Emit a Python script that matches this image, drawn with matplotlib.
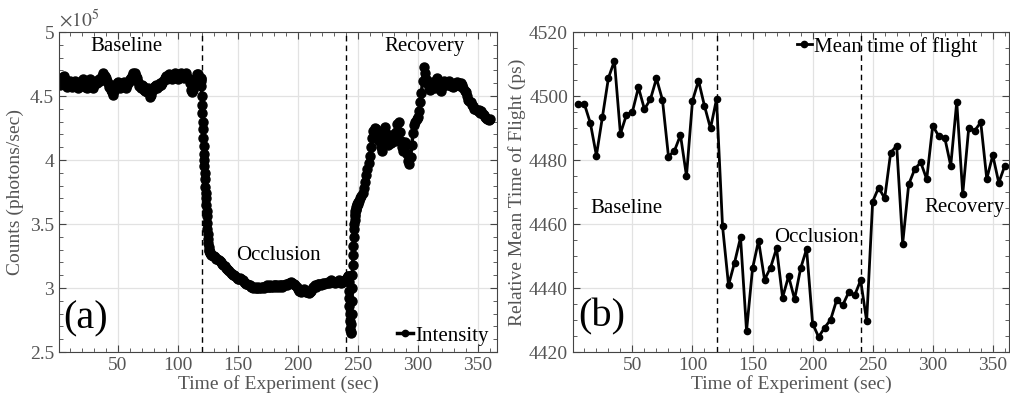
import numpy as np
import matplotlib
matplotlib.use('Agg')
from matplotlib import pyplot as plt
from matplotlib.ticker import MultipleLocator, FuncFormatter

# ---- panel (a): intensity, counts in units of 1e5 photons/sec ----
# sampling: 1 s, with 0.25 s around the two transitions
t_baseline = np.arange(1, 120)
i_baseline = [4.61, 4.59, 4.63, 4.65, 4.66, 4.63, 4.59, 4.57, 4.61, 4.62,
              4.60, 4.57, 4.60, 4.62, 4.61, 4.58, 4.56, 4.58, 4.60, 4.62,
              4.63, 4.60, 4.57, 4.56, 4.59, 4.62, 4.63, 4.60, 4.56, 4.59,
              4.61, 4.62, 4.60, 4.63, 4.62, 4.64, 4.66, 4.68, 4.66, 4.64,
              4.62, 4.60, 4.57, 4.55, 4.53, 4.51, 4.54, 4.58, 4.60, 4.61,
              4.58, 4.56, 4.58, 4.60, 4.61, 4.58, 4.56, 4.59, 4.61, 4.63,
              4.64, 4.66, 4.68, 4.68, 4.66, 4.64, 4.61, 4.58, 4.56, 4.59,
              4.58, 4.55, 4.54, 4.53, 4.56, 4.52, 4.49, 4.51, 4.55, 4.57,
              4.58, 4.59, 4.56, 4.58, 4.60, 4.59, 4.60, 4.62, 4.64, 4.66,
              4.63, 4.65, 4.67, 4.64, 4.63, 4.64, 4.66, 4.68, 4.65, 4.63,
              4.64, 4.66, 4.68, 4.66, 4.64, 4.66, 4.68, 4.65, 4.63, 4.60,
              4.55, 4.53, 4.55, 4.59, 4.64, 4.67, 4.67, 4.65, 4.63]

t_drop = np.arange(119.25, 127.01, 0.25)
i_drop = [4.64, 4.62, 4.58, 4.50, 4.43, 4.37, 4.30, 4.24, 4.17, 4.11,
          4.05, 4.00, 3.95, 3.90, 3.85, 3.79, 3.74, 3.70, 3.65, 3.60,
          3.56, 3.51, 3.46, 3.42, 3.38, 3.35, 3.32, 3.30, 3.29, 3.28,
          3.27, 3.27]

t_occlusion = np.arange(128, 242)
i_occlusion = [3.26, 3.25, 3.25, 3.24, 3.23, 3.23, 3.22, 3.21, 3.20, 3.19,
               3.18, 3.17, 3.16, 3.15, 3.14, 3.13, 3.12, 3.11, 3.10, 3.10,
               3.09, 3.08, 3.07, 3.07, 3.08, 3.07, 3.06, 3.05, 3.04, 3.03,
               3.03, 3.02, 3.02, 3.01, 3.01, 3.00, 3.01, 3.00, 3.00, 3.01,
               3.00, 3.00, 3.01, 3.01, 3.00, 3.01, 3.02, 3.01, 3.01, 3.02,
               3.01, 3.01, 3.02, 3.02, 3.01, 3.02, 3.01, 3.02, 3.02, 3.01,
               3.02, 3.02, 3.03, 3.02, 3.03, 3.04, 3.05, 3.04, 3.03, 3.03,
               3.02, 3.01, 2.99, 2.98, 2.98, 2.97, 2.98, 2.99, 2.98, 2.97,
               2.97, 2.96, 2.97, 2.98, 2.99, 3.01, 3.02, 3.01, 3.02, 3.03,
               3.03, 3.02, 3.03, 3.04, 3.03, 3.04, 3.04, 3.05, 3.04, 3.05,
               3.06, 3.05, 3.05, 3.04, 3.05, 3.05, 3.06, 3.05, 3.04, 3.05,
               3.05, 3.06, 3.07, 3.08]

t_release = np.arange(241.25, 250.01, 0.25)
i_release = [3.08, 3.09, 3.09, 3.08, 3.05, 2.98, 2.92, 2.86, 2.80, 2.74,
             2.68, 2.65, 2.66, 2.72, 2.80, 2.90, 3.00, 3.10, 3.18, 3.26,
             3.33, 3.40, 3.46, 3.50, 3.53, 3.56, 3.58, 3.60, 3.61, 3.62,
             3.63, 3.64, 3.65, 3.66, 3.66, 3.67]

t_recovery = np.arange(251, 361)
i_recovery = [3.68, 3.70, 3.72, 3.74, 3.78, 3.83, 3.88, 3.93, 3.98, 4.03,
              4.10, 4.17, 4.23, 4.25, 4.24, 4.20, 4.22, 4.15, 4.10, 4.07,
              4.14, 4.22, 4.26, 4.20, 4.12, 4.14, 4.16, 4.13, 4.17, 4.20,
              4.15, 4.22, 4.28, 4.30, 4.22, 4.15, 4.10, 4.07, 4.14, 4.12,
              4.05, 3.99, 3.97, 4.02, 4.12, 4.21, 4.27, 4.30, 4.32, 4.34,
              4.38, 4.45, 4.52, 4.62, 4.73, 4.68, 4.63, 4.60, 4.57, 4.55,
              4.58, 4.61, 4.59, 4.56, 4.62, 4.64, 4.60, 4.57, 4.54, 4.57,
              4.60, 4.62, 4.61, 4.59, 4.60, 4.62, 4.60, 4.58, 4.57, 4.58,
              4.60, 4.59, 4.61, 4.60, 4.58, 4.60, 4.59, 4.56, 4.54, 4.53,
              4.50, 4.47, 4.46, 4.45, 4.43, 4.42, 4.40, 4.40, 4.39, 4.38,
              4.39, 4.37, 4.38, 4.36, 4.35, 4.34, 4.33, 4.32, 4.31, 4.32]

# ---- panel (b): mean time of flight (ps), one value every 5 s ----
tof_time = np.arange(5, 361, 5)
tof_values = [4497.6, 4497.5, 4491.5, 4481.4, 4493.4, 4505.6, 4511.0, 4488.2,
              4494.1, 4495.1, 4502.7, 4495.9, 4499.0, 4505.5, 4498.8, 4481.1,
              4482.9, 4487.8, 4475.0, 4498.5, 4504.8, 4496.9, 4489.9, 4499.0,
              4459.4, 4440.9, 4447.9, 4455.8, 4426.6, 4446.1, 4454.8, 4442.6,
              4446.4, 4452.4, 4437.0, 4443.7, 4436.5, 4446.1, 4452.2, 4428.9,
              4424.7, 4427.6, 4430.1, 4436.2, 4434.6, 4438.6, 4437.7, 4442.4,
              4429.7, 4467.0, 4471.4, 4468.0, 4482.3, 4484.5, 4453.9, 4472.4,
              4477.1, 4479.3, 4474.0, 4490.7, 4487.5, 4487.0, 4478.2, 4498.2,
              4469.4, 4490.1, 4489.2, 4491.8, 4474.1, 4481.5, 4472.9, 4478.2]

phase_bounds = [120, 240]
phase_names = ['Baseline', 'Occlusion', 'Recovery']

GRAY = '#555555'
plt.rcParams['font.family'] = ['Liberation Serif', 'DejaVu Serif']
plt.rcParams['mathtext.fontset'] = 'stix'


def style_axes(ax, xminor, ymajor, yminor):
    ax.xaxis.set_major_locator(MultipleLocator(50))
    ax.xaxis.set_minor_locator(MultipleLocator(xminor))
    ax.yaxis.set_major_locator(MultipleLocator(ymajor))
    ax.yaxis.set_minor_locator(MultipleLocator(yminor))
    ax.tick_params(which='both', direction='in', top=True, right=True,
                   color='#444444', labelcolor=GRAY, labelsize=14)
    ax.tick_params(which='major', length=5)
    ax.tick_params(which='minor', length=3)
    for s in ax.spines.values():
        s.set_color('#444444')
    ax.grid(True, which='major', color='#e2e2e2', linewidth=0.9)
    ax.set_axisbelow(True)
    for b in phase_bounds:
        ax.axvline(b, color='black', linestyle=(0, (4, 3)), linewidth=1)
    ax.set_xlabel('Time of Experiment (sec)', fontsize=14, color=GRAY, labelpad=1)


def main():
    fig = plt.figure(figsize=(10.1, 4.04), dpi=100)
    ax1 = fig.add_axes([0.0584, 0.1287, 0.4337, 0.792])
    ax2 = fig.add_axes([0.5673, 0.1287, 0.4317, 0.792])

    # (a)
    t_all = np.concatenate([t_baseline, t_drop, t_occlusion, t_release, t_recovery])
    counts = np.concatenate([i_baseline, i_drop, i_occlusion, i_release, i_recovery]) * 1e5
    ax1.plot(t_all, counts, color='black', linewidth=2.5, marker='o',
             markersize=6.5, label='Intensity')
    ax1.set_xlim(1, 366)
    ax1.set_ylim(2.5e5, 5e5)
    style_axes(ax1, 10, 0.5e5, 0.1e5)
    ax1.yaxis.set_major_formatter(FuncFormatter(lambda v, p: f'{v / 1e5:g}'))
    ax1.text(0.0, 1.005, r'$\times10^5$', transform=ax1.transAxes,
             fontsize=14, color=GRAY, ha='left', va='bottom')
    ax1.set_ylabel('Counts (photons/sec)', fontsize=14, color=GRAY, labelpad=4)
    ax1.text(57, 4.887e5, phase_names[0], fontsize=15, ha='center', va='center')
    ax1.text(183.6, 3.257e5, phase_names[1], fontsize=15, ha='center', va='center')
    ax1.text(305.3, 4.887e5, phase_names[2], fontsize=15, ha='center', va='center')
    ax1.text(23, 2.76e5, '(a)', fontsize=29, ha='center', va='center')
    ax1.legend(loc='lower right', bbox_to_anchor=(0.98, 0.02), frameon=False,
               fontsize=15, handlelength=0.75, handletextpad=0.1,
               borderpad=0, borderaxespad=0, markerscale=0.7)

    # (b)
    ax2.plot(tof_time, tof_values, color='black', linewidth=2, marker='o',
             markersize=4.5, label='Mean time of flight')
    ax2.set_xlim(0.5, 363.5)
    ax2.set_ylim(4420, 4520)
    style_axes(ax2, 10, 20, 5)
    ax2.set_ylabel('Relative Mean Time of Flight (ps)', fontsize=14, color=GRAY, labelpad=2)
    ax2.text(45.4, 4465, phase_names[0], fontsize=15, ha='center', va='center')
    ax2.text(203.3, 4455.8, phase_names[1], fontsize=15, ha='center', va='center')
    ax2.text(326.2, 4465.2, phase_names[2], fontsize=15, ha='center', va='center')
    ax2.text(24.2, 4431, '(b)', fontsize=29, ha='center', va='center')
    ax2.legend(loc='upper left', bbox_to_anchor=(0.513, 0.985), frameon=False,
               fontsize=15, handlelength=0.75, handletextpad=0.1,
               borderpad=0, borderaxespad=0)

    fig.savefig('out.png', dpi=100)


if __name__ == '__main__':
    main()
